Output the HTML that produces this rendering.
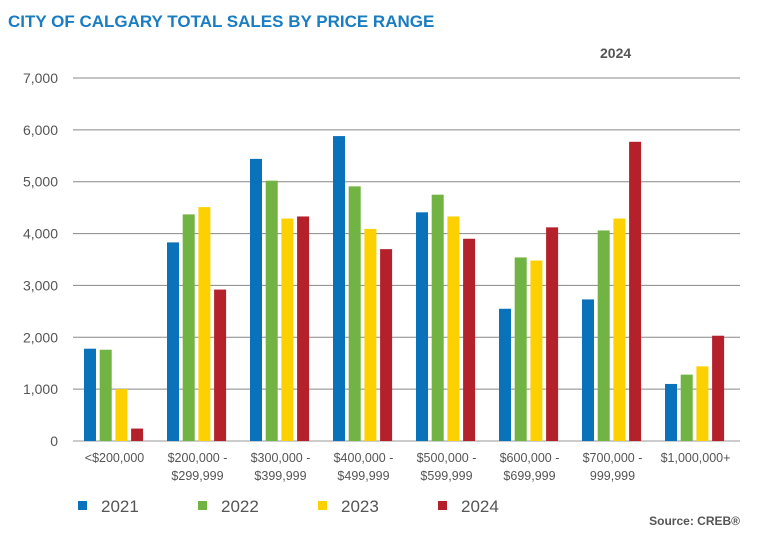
<!DOCTYPE html>
<html><head><meta charset="utf-8"><style>
body{margin:0;background:#fff;font-family:"Liberation Sans",Arial,sans-serif}
</style></head><body>
<svg id="c" width="781" height="555" xmlns="http://www.w3.org/2000/svg">
<text x="8" y="27" font-size="17" font-weight="bold" fill="#1a7dc2">CITY OF CALGARY TOTAL SALES BY PRICE RANGE</text>
<text x="600" y="58" font-size="14" font-weight="bold" fill="#555">2024</text>
<text x="740" y="525" font-size="12" font-weight="bold" fill="#555" text-anchor="end">Source: CREB®</text>
<g id="grid"></g><g id="bars"></g><g id="xl"></g><g id="leg"></g>
</svg>
<script>
const categories=[["<$200,000"],["$200,000 -","$299,999"],["$300,000 -","$399,999"],["$400,000 -","$499,999"],["$500,000 -","$599,999"],["$600,000 -","$699,999"],["$700,000 -","999,999"],["$1,000,000+"]];
const s2021=[1780,3830,5440,5880,4410,2550,2730,1100];
const s2022=[1760,4370,5020,4910,4750,3540,4060,1280];
const s2023=[1000,4510,4290,4090,4330,3480,4290,1440];
const s2024=[240,2920,4330,3700,3900,4120,5770,2030];
const seriesNames=["2021","2022","2023","2024"];
const yTicks=[0,1000,2000,3000,4000,5000,6000,7000];
const yTickLabels=["0","1,000","2,000","3,000","4,000","5,000","6,000","7,000"];
const colors=["#0a72bb","#72b443","#fdd000","#b4212b"];
const NS="http://www.w3.org/2000/svg";
const y=v=>441-v*(363/7000);
const gx=i=>73+i*83;
function mk(p,t,a){const e=document.createElementNS(NS,t);for(const k in a)e.setAttribute(k,a[k]);document.getElementById(p).appendChild(e);return e;}
yTicks.forEach((t,i)=>{
 const l=mk('grid','line',{x1:73,x2:740,y1:y(t),y2:y(t),stroke:i==0?'#999':'#888','stroke-width':1});
 
 
 const tx=mk('grid','text',{x:58,y:y(t)+5,'font-size':14,fill:'#555','text-anchor':'end'});
 tx.textContent=yTickLabels[i];
 
 
});
const all=[s2021,s2022,s2023,s2024];
categories.forEach((c,i)=>{
 all.forEach((s,j)=>{
  const r=mk('bars','rect',{x:gx(i)+11+j*15.7,y:y(s[i]),width:12,height:441-y(s[i]),fill:colors[j]});
  
  
 });
 c.forEach((ln,k)=>{
  const t=mk('xl','text',{x:gx(i)+41.5,y:462+k*18,'font-size':12.5,fill:'#555','text-anchor':'middle'});
  t.textContent=ln;
  
  
 });
});
seriesNames.forEach((n,j)=>{
 const lx=78+j*120;
 const r=mk('leg','rect',{x:lx,y:501,width:9,height:9,fill:colors[j]});
 
 
 const t=mk('leg','text',{x:lx+23,y:512,'font-size':17,fill:'#555'});
 t.textContent=n;
 
 
});
</script>
</body></html>
